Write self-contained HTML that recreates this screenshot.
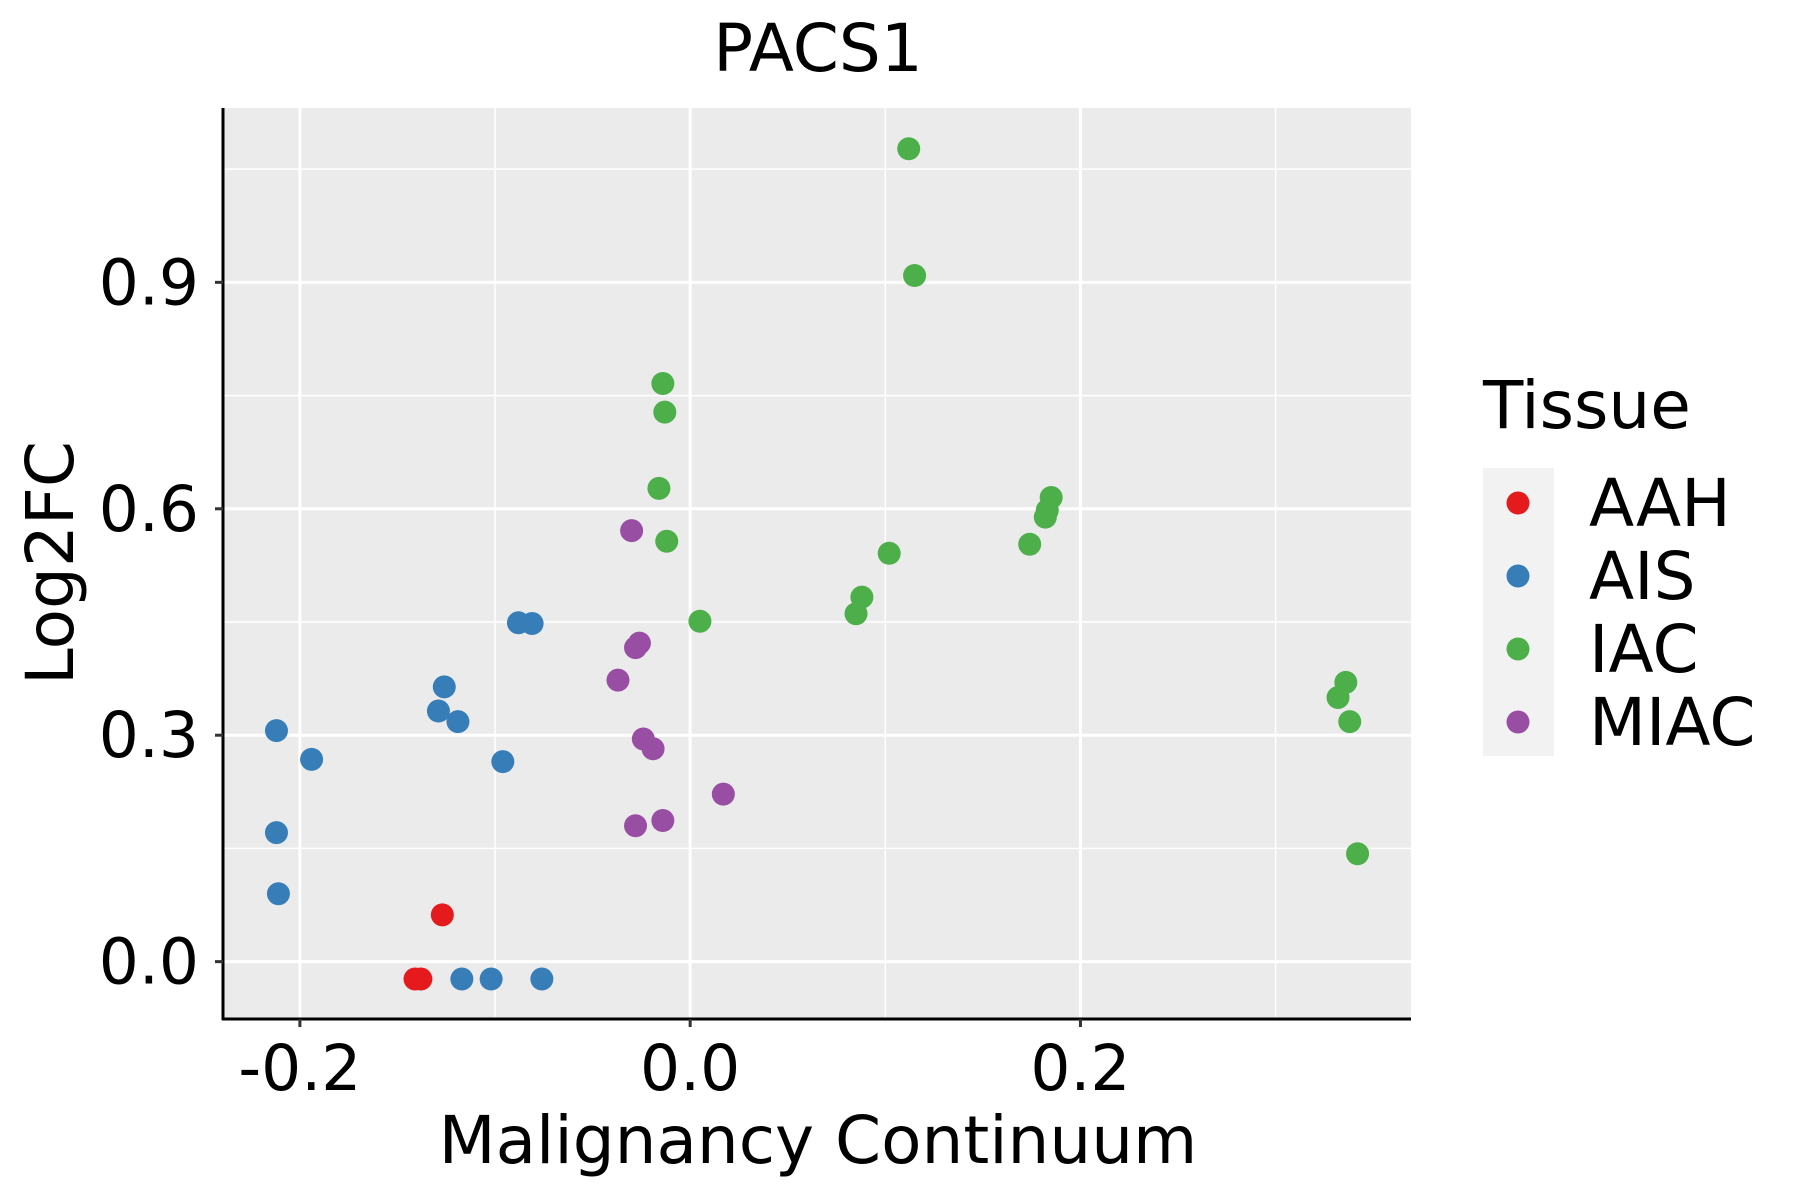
<!DOCTYPE html>
<html><head><meta charset="utf-8"><style>
html,body{margin:0;padding:0;background:#fff;}
svg{display:block;font-family:"DejaVu Sans","Liberation Sans",sans-serif;}
</style></head><body>
<svg id="chart" width="1800" height="1200" viewBox="0 0 1800 1200">
<rect x="0" y="0" width="1800" height="1200" fill="#fff"/>
<rect x="223" y="108" width="1188" height="911" fill="#ebebeb"/>
<g id="grid"></g>
<g id="points"></g>
<line x1="223" y1="108" x2="223" y2="1020" stroke="#000" stroke-width="3"/>
<line x1="222" y1="1019" x2="1411" y2="1019" stroke="#000" stroke-width="3"/>
<g id="ticks"></g>
<text x="818" y="71" font-size="66" text-anchor="middle">PACS1</text>
<text x="818" y="1163" font-size="66" text-anchor="middle">Malignancy Continuum</text>
<text transform="translate(73,563) rotate(-90)" font-size="66" text-anchor="middle">Log2FC</text>
<g>
<text x="1483" y="428" font-size="66">Tissue</text>
<rect x="1483" y="468" width="71" height="288" fill="#f2f2f2"/>
<g id="legend"></g>
</g>
</svg>
<script>
const xTicks=[-0.2,0.0,0.2];
const xTickLabels=["-0.2","0.0","0.2"];
const yTicks=[0.0,0.3,0.6,0.9];
const yTickLabels=["0.0","0.3","0.6","0.9"];
const xMinor=[-0.3,-0.1,0.1,0.3];
const yMinor=[0.15,0.45,0.75,1.05];
const groups=["AAH","AIS","IAC","MIAC"];
const groupColors=["#e41a1c","#377eb8","#4daf4a","#984ea3"];
const aahX=[-0.127,-0.141,-0.138];
const aahY=[0.062,-0.023,-0.023];
const aisX=[-0.212,-0.194,-0.212,-0.211,-0.126,-0.129,-0.119,-0.088,-0.081,-0.096,-0.117,-0.102,-0.076];
const aisY=[0.306,0.268,0.171,0.090,0.364,0.332,0.318,0.449,0.448,0.265,-0.023,-0.023,-0.023];
const iacX=[0.112,0.115,-0.014,-0.013,-0.016,-0.012,0.005,0.102,0.088,0.085,0.185,0.183,0.182,0.174,0.336,0.332,0.338,0.342];
const iacY=[1.077,0.909,0.766,0.728,0.627,0.557,0.451,0.541,0.483,0.461,0.615,0.598,0.589,0.553,0.370,0.350,0.318,0.143];
const miacX=[-0.030,-0.026,-0.028,-0.037,-0.024,-0.019,0.017,-0.028,-0.014];
const miacY=[0.571,0.422,0.416,0.373,0.295,0.282,0.222,0.180,0.187];
const seriesX=[aahX,aisX,iacX,miacX];
const seriesY=[aahY,aisY,iacY,miacY];

const X0=223,X1=1411,Y0=108,Y1=1019;
const xMin=-0.2394,xMax=0.3694,yMin=-0.076,yMax=1.131;
const sx=v=>X0+(v-xMin)/(xMax-xMin)*(X1-X0);
const sy=v=>Y1-(v-yMin)/(yMax-yMin)*(Y1-Y0);
const NS="http://www.w3.org/2000/svg";
function mk(tag,attrs,parent){const e=document.createElementNS(NS,tag);for(const k in attrs)e.setAttribute(k,attrs[k]);parent.appendChild(e);return e;}
const grid=document.getElementById('grid');
xMinor.forEach(v=>{const x=sx(v);if(x>X0&&x<X1){const l=mk('line',{x1:x,x2:x,y1:Y0,y2:Y1,stroke:'#fff','stroke-width':1.5},grid);

}});
yMinor.forEach(v=>{const y=sy(v);const l=mk('line',{x1:X0,x2:X1,y1:y,y2:y,stroke:'#fff','stroke-width':1.5},grid);

});
xTicks.forEach(v=>{const x=sx(v);const l=mk('line',{x1:x,x2:x,y1:Y0,y2:Y1,stroke:'#fff','stroke-width':3},grid);

});
yTicks.forEach(v=>{const y=sy(v);const l=mk('line',{x1:X0,x2:X1,y1:y,y2:y,stroke:'#fff','stroke-width':3},grid);

});
const ticks=document.getElementById('ticks');
xTicks.forEach((v,i)=>{const x=sx(v);
const t=mk('line',{x1:x,x2:x,y1:Y1,y2:Y1+8,stroke:'#333','stroke-width':3},ticks);


const tx=mk('text',{x:x,y:1090,'font-size':63,'text-anchor':'middle'},ticks);tx.textContent=xTickLabels[i];

});
yTicks.forEach((v,i)=>{const y=sy(v);
const t=mk('line',{x1:X0-8,x2:X0,y1:y,y2:y,stroke:'#333','stroke-width':3},ticks);


const tx=mk('text',{x:199,y:y+22,'font-size':63,'text-anchor':'end'},ticks);tx.textContent=yTickLabels[i];

});
const pts=document.getElementById('points');
seriesX.forEach((xs,g)=>{xs.forEach((xv,i)=>{
const c=mk('circle',{cx:sx(xv),cy:sy(seriesY[g][i]),r:11.5,fill:groupColors[g]},pts);

});});
const leg=document.getElementById('legend');
const legY=[503,576,649,722];
groups.forEach((gname,g)=>{
const c=mk('circle',{cx:1518,cy:legY[g],r:11.5,fill:groupColors[g]},leg);


const t=mk('text',{x:1589,y:legY[g]+23,'font-size':66},leg);t.textContent=gname;

});
</script>
</body></html>
